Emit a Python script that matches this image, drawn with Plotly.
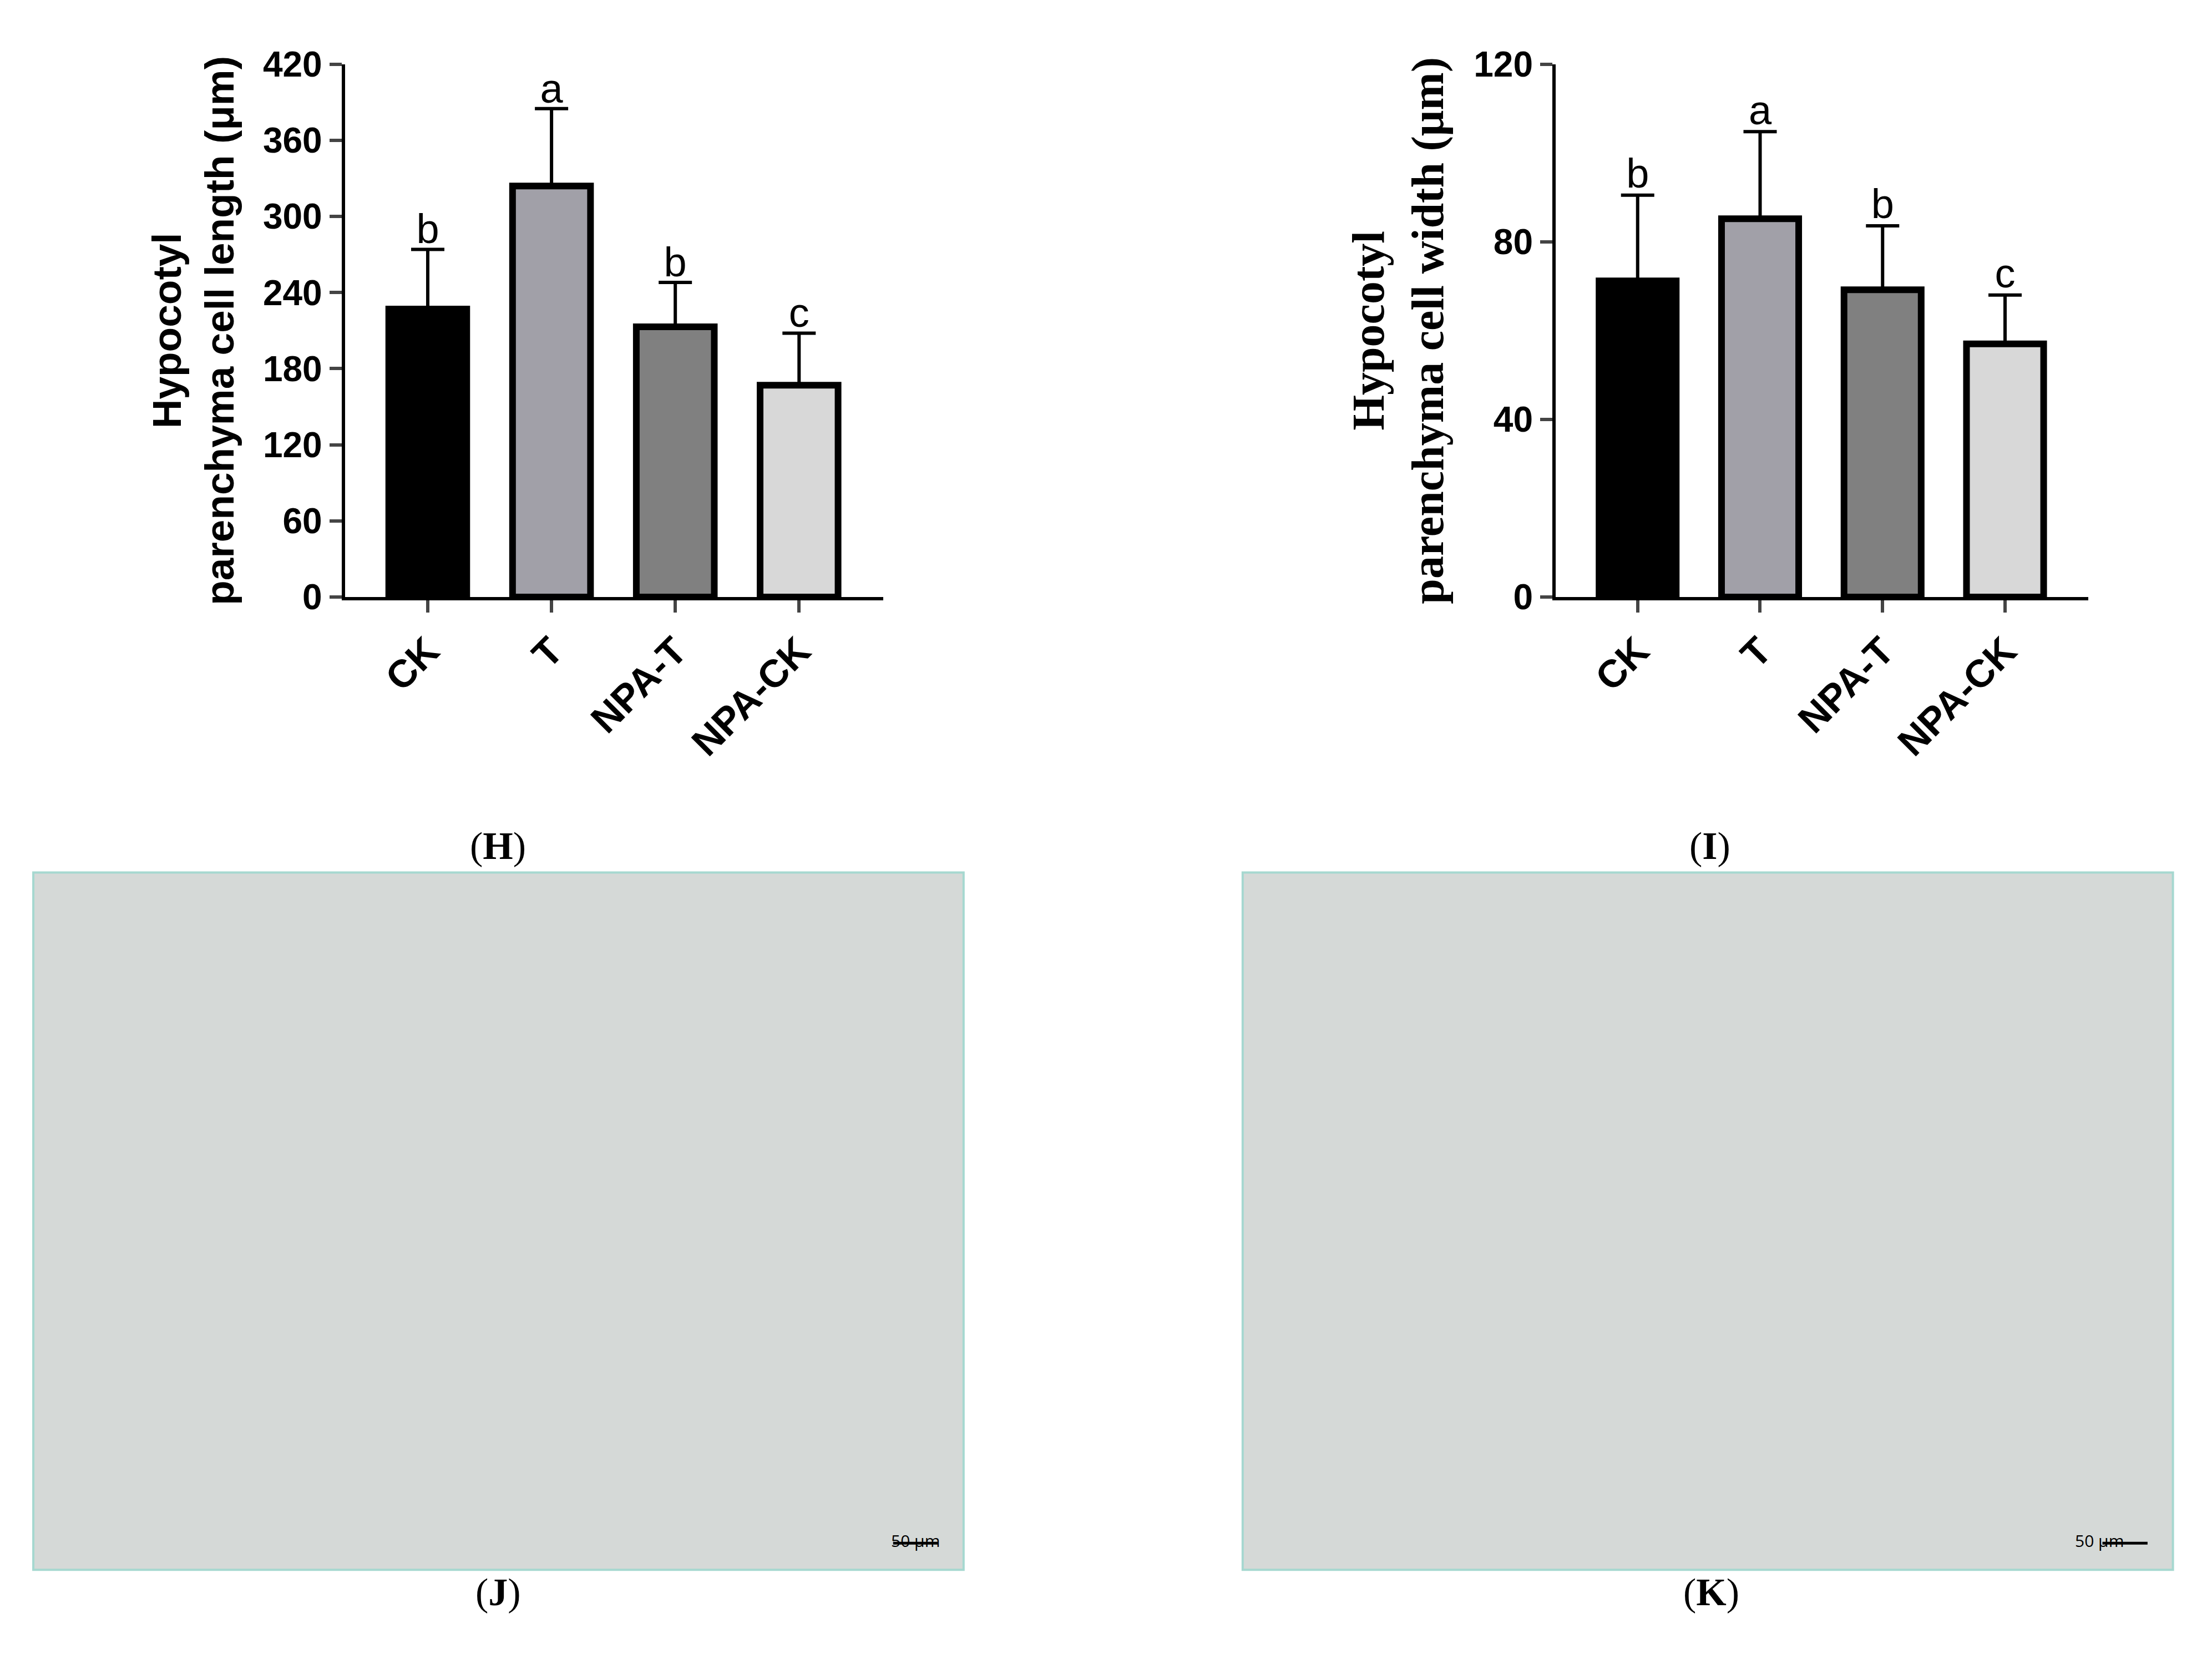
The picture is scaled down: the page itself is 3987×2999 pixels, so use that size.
import plotly.graph_objects as go

categories = ["CK", "T", "NPA-T", "NPA-CK"]
length_mean = [227, 324, 213, 167]
length_err = [47, 61, 35, 41]
length_letters = ["b", "a", "b", "c"]
width_mean = [71.2, 85.2, 69.2, 57.0]
width_err = [19.3, 19.6, 14.4, 11.0]
width_letters = ["b", "a", "b", "c"]
length_ticks = [0, 60, 120, 180, 240, 300, 360, 420]
width_ticks = [0, 40, 80, 120]
colors = ["#000000", "#a1a0a8", "#808080", "#d8d8d8"]

W, H = 3987, 2999
fig = go.Figure()

def px(x):
    return (x / 1.006 - 1.5) / 1560

def py(y):
    return 1 - ((y - 15.7) / 0.984) / 1174

def add_chart(xa, ya, vals, errs, letters, ymax, ticks, title, tfont, tsize, offset):
    fig.add_trace(go.Bar(
        x=categories, y=vals, xaxis=xa, yaxis=ya, width=0.63,
        marker=dict(color=colors, line=dict(color="black", width=12)),
        error_y=dict(type="data", array=errs, arrayminus=[0]*4, symmetric=False,
                     color="black", thickness=6, width=30),
        showlegend=False))
    fig.add_trace(go.Scatter(
        x=categories, y=[v + e + offset for v, e in zip(vals, errs)], xaxis=xa, yaxis=ya,
        mode="text", text=letters, textposition="middle center",
        textfont=dict(size=74, family="Liberation Sans", color="black"),
        showlegend=False, cliponaxis=False))
    return dict(
        x=dict(range=[-0.67, 3.68], showline=True, linecolor="black", linewidth=6,
               ticks="outside", ticklen=22, tickwidth=6, tickangle=-45,
               tickfont=dict(size=70, family="Liberation Sans", color="black", weight="bold"),
               showgrid=False, zeroline=False, fixedrange=True),
        y=dict(range=[0, ymax], tickvals=ticks, showline=True, linecolor="black", linewidth=6,
               ticks="outside", ticklen=22, tickwidth=6,
               tickfont=dict(size=64, family="Liberation Sans", color="black", weight="bold"),
               showgrid=False, zeroline=False,
               title=dict(text=title, font=dict(size=tsize, family=tfont, color="black", weight="bold"),
                          standoff=30)))

a = add_chart("x", "y", length_mean, length_err, length_letters, 420, length_ticks,
              "Hypocotyl<br>parenchyma cell length (μm)", "Liberation Sans", 73, 13)
b = add_chart("x2", "y2", width_mean, width_err, width_letters, 120, width_ticks,
              "Hypocotyl<br>parenchyma cell width (μm)", "Liberation Serif", 82, 4)

fig.update_layout(
    width=W, height=H, paper_bgcolor="white", plot_bgcolor="white",
    margin=dict(l=0, r=0, t=0, b=0),
    xaxis=dict(domain=[px(243), px(625)], anchor="y", **a["x"]),
    yaxis=dict(domain=[py(423), py(44)], anchor="x", **a["y"]),
    xaxis2=dict(domain=[px(1102), px(1480)], anchor="y2", **b["x"]),
    yaxis2=dict(domain=[py(423), py(44)], anchor="x2", **b["y"]),
)

for x0, x1 in [(22, 682), (880, 1540)]:
    fig.add_shape(type="rect", xref="paper", yref="paper", x0=px(x0), x1=px(x1),
                  y0=py(1115), y1=py(619), fillcolor="#d5d9d7",
                  line=dict(color="#a6d8d0", width=4), layer="below")
    fig.add_shape(type="line", xref="paper", yref="paper", x0=px(x1 - 50), x1=px(x1 - 18),
                  y0=py(1096), y1=py(1096), line=dict(color="black", width=5))
    fig.add_annotation(xref="paper", yref="paper", x=px(x1 - 34), y=py(1103),
                       text="50 μm", showarrow=False, font=dict(size=30, color="black"))

for lab, x, y in [("H", 331, 600), ("I", 1227, 600), ("J", 335, 1147), ("K", 1233, 1147)]:
    fig.add_annotation(xref="paper", yref="paper", x=px(x), y=py(y),
                       text=f"(<b>{lab}</b>)", showarrow=False,
                       font=dict(size=70, family="Liberation Serif", color="black"))

fig.write_html("out.html")
